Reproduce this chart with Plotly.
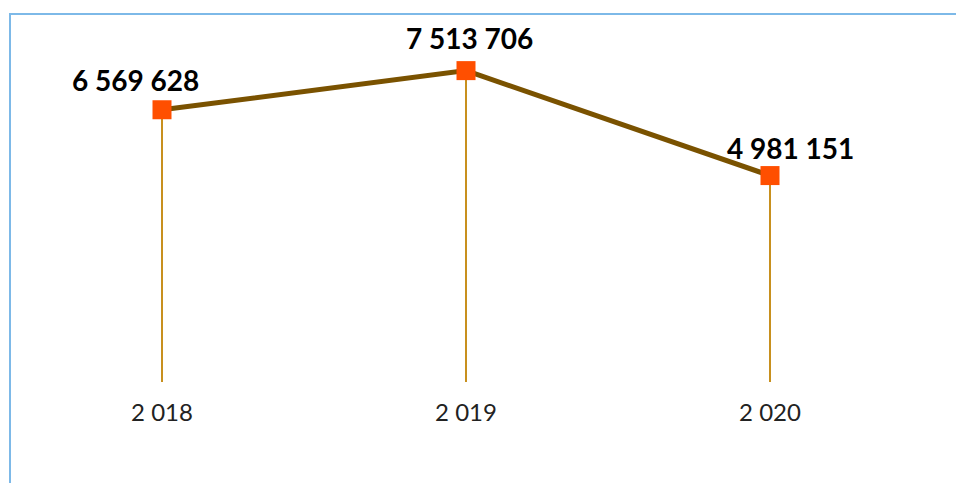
import plotly.graph_objects as go

years = ["2 018", "2 019", "2 020"]
values = [6569628, 7513706, 4981151]
labels = ["6 569 628", "7 513 706", "4 981 151"]
label_xshift = [-27, 3, 20]
label_yshift = [30, 33, 28]

fig = go.Figure()
fig.add_trace(go.Scatter(
    x=years, y=values, mode="lines+markers",
    line=dict(color="#7A5200", width=5),
    marker=dict(symbol="square", size=19, color="#FF4F00"),
    error_y=dict(type="data", symmetric=False, array=[0] * len(values),
                 arrayminus=values, thickness=2, width=0, color="#C8901E"),
    hoverinfo="skip", showlegend=False,
))

for yr, v, t, xs, ys in zip(years, values, labels, label_xshift, label_yshift):
    fig.add_annotation(x=yr, y=v, text="<b>" + t + "</b>", showarrow=False,
                       xshift=xs, yshift=ys,
                       font=dict(family="Lato", size=28, color="#000000"))

fig.add_shape(type="rect", xref="paper", yref="paper", x0=0, x1=1.2, y0=-0.5, y1=1,
              line=dict(color="#7DB9E8", width=2), fillcolor="rgba(0,0,0,0)", layer="above")

fig.update_layout(
    width=956, height=483,
    margin=dict(l=10, r=34, t=14, b=101),
    paper_bgcolor="white", plot_bgcolor="white",
    xaxis=dict(type="category", range=[-0.5, 2.5], showgrid=False, zeroline=False,
               showline=False, ticks="", ticklabelstandoff=14,
               tickfont=dict(family="Lato", size=24, color="#222222")),
    yaxis=dict(range=[0, 8.88e6], visible=False),
)

fig.write_html("out.html", config={"displayModeBar": False},
               post_script="document.body.style.margin='0';document.body.style.overflow='hidden';")
